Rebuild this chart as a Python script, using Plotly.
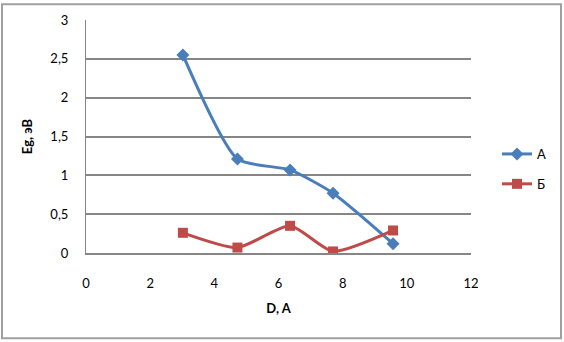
import plotly.graph_objects as go

x_vals = [3.02, 4.72, 6.36, 7.70, 9.57]
series_a = [2.55, 1.21, 1.07, 0.77, 0.12]
series_b = [0.26, 0.07, 0.35, 0.02, 0.29]
names = ["А", "Б"]

fig = go.Figure()
fig.add_trace(go.Scatter(x=x_vals, y=series_a, name=names[0], mode="lines+markers", legendgroup="a",
                         line=dict(color="#4A7EBB", width=3, shape="spline", smoothing=0.6),
                         marker=dict(symbol="diamond", size=10, color="#4A7EBB")))
fig.add_trace(go.Scatter(x=x_vals, y=series_b, name=names[1], mode="lines+markers", legendgroup="b",
                         line=dict(color="#BE4B48", width=3, shape="spline", smoothing=0.6),
                         marker=dict(symbol="square", size=10, color="#BE4B48")))

W, H = 564, 342
L, R, T, B = 86, 93, 18, 89
pw, ph = W - L - R, H - T - B

fig.update_layout(
    width=W, height=H,
    margin=dict(l=L, r=R, t=T, b=B),
    paper_bgcolor="white", plot_bgcolor="white",
    separators=", ",
    font=dict(family="Lato, Liberation Sans, Arial, sans-serif", size=13, color="#000000"),
    showlegend=True,
    legend=dict(x=(497 - L) / pw, y=(253 - 138) / ph, xanchor="left", yanchor="top",
                font=dict(size=13), bgcolor="rgba(0,0,0,0)", tracegroupgap=10, itemwidth=30),
    xaxis=dict(range=[0, 12], dtick=2, tick0=0, showgrid=False, zeroline=False,
               showline=True, linecolor="#868686", linewidth=2,
               ticks="outside", ticklen=17, tickcolor="rgba(0,0,0,0)",
               title=dict(text="<b>D, A</b>", font=dict(size=13), standoff=14)),
    yaxis=dict(range=[0, 3], dtick=0.5, tick0=0, showgrid=True, gridcolor="#868686", gridwidth=1.5,
               zeroline=False, showline=True, linecolor="#868686", linewidth=1,
               ticks="outside", ticklen=14, tickcolor="rgba(0,0,0,0)",
               title=dict(text="<b>Eg, эВ</b>", font=dict(size=13), standoff=14)),
    shapes=[dict(type="rect", xref="paper", yref="paper",
                 x0=(2 - L) / pw, x1=(561 - L) / pw,
                 y0=(H - B - 339) / ph, y1=(H - B - 2) / ph,
                 line=dict(color="#A0A0A0", width=2), fillcolor="rgba(0,0,0,0)", layer="below")],
)

fig.write_html("out.html", config={"displayModeBar": False},
               post_script="document.body.style.margin='0';document.body.style.overflow='hidden';")
